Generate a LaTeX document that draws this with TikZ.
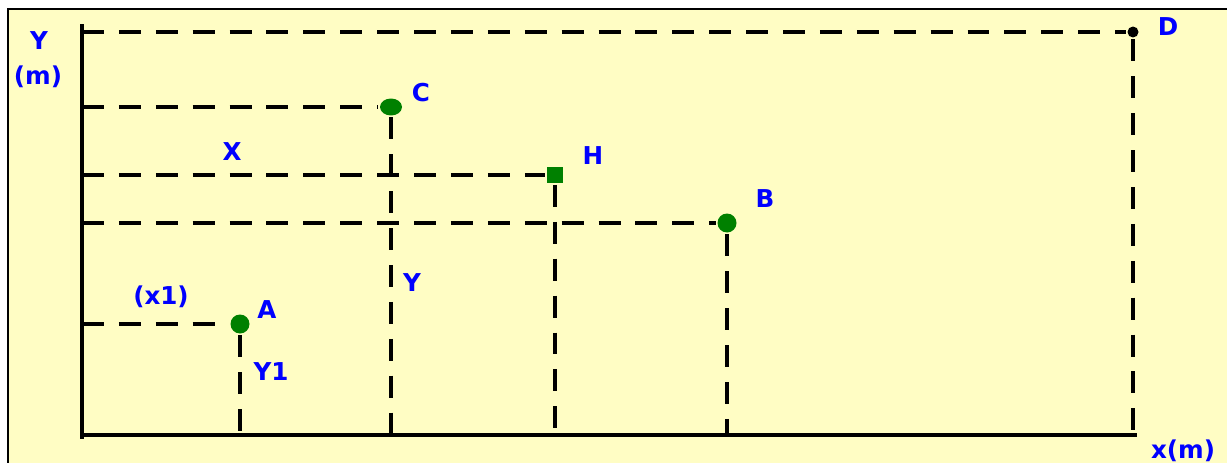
\documentclass[tikz,border=0pt]{standalone}
\usepackage{fontspec}
\setmainfont{DejaVu Sans}
\usetikzlibrary{positioning,shapes.geometric}
\definecolor{paper}{HTML}{FFFDC4}
\definecolor{ptgreen}{HTML}{008000}

\begin{document}
\begin{tikzpicture}[x=0.02cm,y=-0.02cm,line width=2.2pt,
    grid line/.style={dash pattern=on 12.5pt off 8.5pt},
    main point/.style={circle,fill=ptgreen,inner sep=0pt,minimum size=0.38cm},
    point label/.style={text=blue,font=\bfseries\fontsize{14}{16}\selectfont,inner sep=0pt}]
            \useasboundingbox (0,0) rectangle (1227,463);
            \fill[paper] (8,9) rectangle (1227,463);
            \draw[line width=0.8pt] (8,463) -- (8,9) -- (1227,9);

            % axes
            \coordinate (O) at (82,435);
            \coordinate (ytop) at (82,24);
            \coordinate (xend) at (1137,435);
            \draw (ytop) -- (82,439);
            \draw (O) -- (xend);

            % points
            \node[main point] (A) at (240,324) {};
            \node[main point] (B) at (727,223) {};
            \node[main point,ellipse,minimum width=0.44cm,minimum height=0.34cm] (C) at (391,107) {};
            \node[main point,rectangle,minimum size=0.32cm] (H) at (555,175) {};
            \node[circle,fill=black,inner sep=0pt,minimum size=0.22cm] (D) at (1133,32) {};

            % feet on the axes
            \coordinate (Ay) at (A -| O);  \coordinate (Ax) at (A |- O);
            \coordinate (By) at (B -| O);  \coordinate (Bx) at (B |- O);
            \coordinate (Cy) at (C -| O);  \coordinate (Cx) at (C |- O);
            \coordinate (Hy) at (H -| O);  \coordinate (Hx) at (H |- O);
            \coordinate (Dy) at (D -| O);  \coordinate (Dx) at (D |- O);

            \path[grid line]
                (Ay) edge (A) (A) edge (Ax)
                (By) edge (B) (B) edge (Bx)
                (Cy) edge (C) (C) edge (Cx)
                (Hy) edge (H) (H) edge (Hx)
                (Dy) edge (D) (D) edge (Dx)
                ;

            % labels
            \node[point label] (lY) at (39,41) {Y};
            \node[point label] (lm) at (38,77) {(m)};
            \node[point label] (lxm) at (1183,451) {x(m)};
            \node[point label] (lA) at (267,310) {A};
            \node[point label] (lB) at (765,199) {B};
            \node[point label] (lC) at (421,93) {C};
            \node[point label] (lD) at (1168,27) {D};
            \node[point label] (lH) at (593,156) {H};
            \node[point label] (lX) at (232,152) {X};
            \node[point label] (lYc) at (412,283) {Y};
            \node[point label] (lx1) at (161,297) {(x1)};
            \node[point label] (lY1) at (271,372) {Y1};
        \end{tikzpicture}
\end{document}
